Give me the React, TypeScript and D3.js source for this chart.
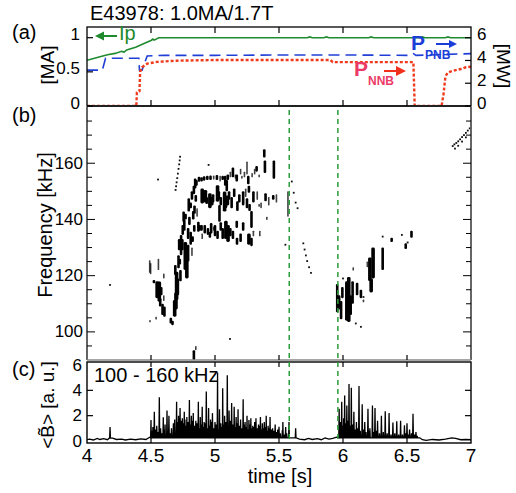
import React from 'react';
import * as d3 from 'd3';

const W = 516, H = 493;
const FONT = "'Liberation Sans', Arial, Helvetica, sans-serif";

// ---------- ticks ----------
const timeTicks = [4, 4.5, 5, 5.5, 6, 6.5, 7];
const timeTickLabels = ['4', '4.5', '5', '5.5', '6', '6.5', '7'];
const ipTicks = [0, 0.5, 1];
const ipTickLabels = ['0', '0.5', '1'];
const mwTicks = [0, 2, 4, 6];
const freqMajor = [100, 120, 140, 160];
const freqMinor = [95, 100, 105, 110, 115, 120, 125, 130, 135, 140, 145, 150, 155, 160, 165, 170, 175];
const bTicks = [0, 2, 4, 6];

// ---------- panel (a) series: [time s, value] ----------
const ipSeries: [number, number][] = [
  [4.0, 0.67], [4.08, 0.71], [4.16, 0.75], [4.22, 0.77], [4.27, 0.8], [4.29, 0.79], [4.31, 0.82],
  [4.38, 0.86], [4.45, 0.92], [4.5, 0.96], [4.515, 0.98], [4.525, 0.965], [4.56, 1.0], [4.6, 1.0],
  [5.0, 1.0], [5.5, 1.0], [5.72, 1.0], [5.74, 1.012], [5.76, 1.0], [5.85, 1.0], [5.87, 1.012],
  [5.89, 1.0], [6.2, 1.0], [6.22, 1.012], [6.24, 1.0], [6.6, 1.0], [6.62, 1.012], [6.64, 1.0],
  [6.8, 1.0], [6.82, 1.012], [6.84, 1.0], [7.0, 1.0],
];
const pnbSeries: [number, number][] = [
  [4.0, 3.15], [4.12, 3.15], [4.145, 4.2], [4.405, 4.2], [4.41, 3.15], [4.43, 3.15], [4.47, 4.4],
  [4.6, 4.45], [5.0, 4.45], [5.5, 4.48], [6.0, 4.48], [6.53, 4.45], [6.55, 4.6], [6.57, 4.45],
  [7.0, 4.6],
];
const nnbSeries: [number, number][] = [
  [4.0, 0], [4.385, 0], [4.39, 1.2], [4.41, 1.3], [4.415, 3.0], [4.43, 3.4], [4.47, 3.72],
  [4.55, 3.88], [4.7, 3.98], [5.0, 4.04], [5.9, 4.04], [5.92, 3.85], [6.55, 3.85], [6.56, 0],
  [6.77, 0], [6.785, 1.0], [6.8, 2.6], [6.82, 2.95], [6.86, 3.1], [6.92, 3.25], [6.96, 3.4],
  [7.0, 3.45],
];

// ---------- panel (b) spectrogram: [time, fLow, fHigh, weight] and dots [time, f] ----------
const streaks: [number, number, number, number][] = [
  // early cluster
  [4.49, 121, 125.5, 1], [4.497, 120.5, 124.5, 1], [4.523, 117.3, 118.5, 2], [4.548, 112, 118, 3],
  [4.558, 122, 126, 1], [4.565, 110.7, 117.9, 3], [4.572, 109, 112, 2], [4.59, 106, 110, 2],
  [4.605, 105.4, 109, 2], [4.6, 119, 120.8, 1], [4.54, 104.4, 105.4, 1], [4.492, 103.4, 104.2, 1],
  [4.58, 113, 116, 2], [4.6, 111, 113, 1],
  // main rising arc
  [4.655, 103, 105, 2], [4.668, 102.4, 104, 2], [4.685, 105.4, 111.3, 3], [4.695, 108, 114, 3],
  [4.7, 111.3, 121.4, 3], [4.71, 113, 119, 2], [4.69, 120.2, 123.8, 2], [4.715, 122.6, 127.3, 2],
  [4.725, 124, 126, 2], [4.735, 127.3, 134.5, 2], [4.745, 129, 133, 2], [4.748, 134.5, 138, 2],
  [4.768, 122, 132, 3], [4.78, 119, 127, 3], [4.79, 125, 131, 2], [4.81, 131, 135.6, 2],
  [4.825, 132, 134, 2], [4.838, 135.6, 138, 2],
  [4.72, 129, 133, 2], [4.73, 118, 122, 2], [4.76, 136, 140, 2], [4.79, 133, 137, 2],
  [4.8, 138, 141, 2], [4.83, 140, 143, 2], [4.82, 127, 130, 1], [4.84, 142, 145, 2], [4.86, 141, 144, 1],
  [4.755, 139.2, 142.8, 2], [4.77, 140, 142, 2], [4.795, 142.8, 147.5, 2], [4.81, 144, 146, 2],
  [4.82, 147, 150, 2], [4.835, 149, 152, 2], [4.845, 151, 154.6, 2], [4.855, 152, 154, 2],
  [4.85, 146.3, 148.7, 2], [4.87, 135.6, 139.2, 2], [4.88, 136, 138, 2],
  // top band
  [4.875, 153.4, 155.2, 2], [4.895, 153.5, 155, 2], [4.915, 153.8, 155.4, 2], [4.94, 154, 155.5, 2],
  [4.965, 154, 155.6, 2], [4.99, 154.2, 155.6, 1], [5.015, 154, 155.8, 2], [5.04, 153.5, 155.5, 1],
  [5.06, 154, 155.5, 2], [5.14, 155, 158.5, 2], [5.2, 156, 158, 1], [5.25, 156, 160.6, 1],
  [5.1, 154, 156, 2], [5.12, 155, 157, 1], [5.16, 154.5, 156, 1], [5.23, 155, 157, 1],
  [5.29, 155, 156.5, 1], [5.31, 156, 158, 1],
  // middle band
  [4.9, 145.7, 151, 3], [4.91, 147, 150, 3], [4.925, 146, 150.5, 3], [4.935, 145.5, 148, 2],
  [4.96, 144, 149.3, 3], [4.975, 145, 148, 3], [4.985, 146, 149, 2], [5.02, 146.3, 152.2, 3],
  [5.03, 147, 150, 2], [5.045, 145, 148, 2], [5.075, 142.8, 149.9, 3], [5.088, 146, 148, 2],
  [5.11, 147, 150, 2], [5.13, 144, 148, 2], [5.15, 148, 151, 2], [5.19, 146, 149, 2],
  [5.22, 145, 150, 2], [5.24, 148, 151, 1], [5.3, 146, 150, 2], [5.33, 147, 150, 1],
  [5.36, 144, 146, 1], [5.42, 145, 148, 1], [5.48, 146, 149, 1],
  // lower band
  [4.895, 136, 138, 2], [4.92, 135, 138, 2], [4.945, 134.5, 137, 2], [4.97, 135, 138.7, 2],
  [4.99, 136, 137.5, 1], [5.035, 139.2, 145.1, 2], [5.045, 136, 139, 2], [5.06, 133, 137, 2],
  [4.9, 133, 135, 1], [4.96, 133.5, 135.5, 2], [5.0, 134, 138, 2], [5.02, 133, 136, 2],
  [5.12, 134, 137, 2], [5.14, 133, 136, 2], [5.2, 132, 135, 2], [5.22, 136, 139, 2],
  [5.3, 134, 136, 1], [5.35, 134, 136, 1],
  // 5.08 - 5.6
  [5.08, 152, 155.5, 2], [5.092, 150, 154, 2], [5.082, 144, 148, 3], [5.097, 145, 148.5, 3],
  [5.085, 133, 139.5, 3], [5.102, 132, 138, 3], [5.17, 153.5, 156, 2], [5.175, 143, 146.5, 2],
  [5.17, 137, 139.5, 2], [5.172, 131, 133.5, 2], [5.21, 154.5, 155.5, 1], [5.26, 152.5, 155.5, 2],
  [5.265, 149.5, 152, 2], [5.25, 144, 147.5, 2], [5.27, 143, 145.5, 2], [5.285, 137, 143, 2],
  [5.265, 131, 135, 3], [5.285, 130.5, 133.5, 2], [5.325, 157, 159, 2], [5.345, 155, 156, 1],
  [5.345, 144.5, 145.5, 1], [5.385, 162, 165, 2], [5.39, 156.5, 161, 2], [5.395, 146.5, 149.3, 2],
  [5.405, 139.8, 141, 1], [5.455, 147, 148.7, 2], [5.46, 154.5, 161, 2], [5.57, 141, 150, 1],
  // second burst after 5.96 s
  [5.955, 107, 117, 2], [5.97, 108, 113, 2], [5.985, 104.5, 111, 2], [5.995, 112, 116, 2],
  [6.03, 104, 118, 3], [6.045, 103.5, 119.5, 3], [6.06, 106, 113, 2], [6.075, 110, 118, 2],
  [6.08, 121.8, 123, 1], [6.11, 113, 117.5, 2], [6.14, 112, 115, 2], [6.16, 110.5, 111.5, 1],
  [6.19, 123, 125, 1], [6.21, 118, 126.5, 3], [6.22, 114, 119, 3], [6.235, 119, 130, 3],
  [6.31, 122, 130, 2], [6.38, 132, 133.5, 2], [6.49, 129.5, 131.5, 2], [6.535, 133.5, 136, 2],
  // bottom mark
  [4.835, 90, 93.5, 2], [4.85, 93.5, 95, 1],
];
const dots: [number, number][] = [
  [4.18, 116.7], [4.555, 154.2], [5.117, 97.5], [4.95, 159.4], [5.55, 131],
  [4.727, 162.3], [4.724, 161], [4.72, 159.6], [4.715, 158], [4.71, 156.3], [4.705, 154.7],
  [4.7, 153.2], [4.696, 151.8], [4.692, 150.5],
  [5.6, 153.5], [5.615, 149.5], [5.63, 146], [5.645, 144],
  [5.69, 131.5], [5.7, 129.3], [5.71, 127.2], [5.72, 125.2], [5.735, 123], [5.75, 121],
  [6.0, 119], [6.04, 118.7], [6.1, 103], [6.14, 101.8], [6.16, 112.4], [6.31, 133.9],
  [6.46, 134.5], [6.505, 131.8],
  [6.857, 166.1], [6.87, 166.7], [6.885, 167.2], [6.9, 167.8], [6.915, 168.5], [6.93, 169.3],
  [6.945, 170], [6.96, 170.8], [6.975, 171.6], [6.99, 172.4],
  [6.875, 165.2], [6.9, 166.2], [6.93, 167.7], [6.96, 169.2],
];

// ---------- panel (c): spikes [time, amplitude] ----------
const spikes: [number, number][] = [
  [4.18, 1.1], [4.5, 1.66], [4.526, 2.3], [4.565, 3.45], [4.596, 1.87], [4.61, 1.3], [4.625, 2.4],
  [4.64, 2.0], [4.7, 3.1], [4.715, 2.0], [4.727, 2.6], [4.745, 1.8], [4.76, 2.3], [4.78, 1.9],
  [4.8, 3.24], [4.815, 2.0], [4.83, 2.2], [4.85, 1.6], [4.87, 3.1], [4.885, 1.9], [4.9, 2.7],
  [4.915, 1.5], [4.932, 3.9], [4.95, 2.6], [4.965, 1.7], [4.98, 2.2], [5.0, 1.5], [5.02, 5.4],
  [5.035, 2.5], [5.06, 4.16], [5.075, 2.0], [5.096, 5.2], [5.11, 2.4], [5.13, 3.0], [5.15, 2.7],
  [5.165, 1.9], [5.18, 2.5], [5.2, 1.7], [5.22, 3.3], [5.235, 1.5], [5.25, 2.0], [5.265, 1.66],
  [5.28, 1.8], [5.295, 1.2], [5.31, 1.5], [5.32, 1.8], [5.34, 1.3], [5.355, 1.9], [5.37, 1.4],
  [5.385, 1.5], [5.4, 2.0], [5.415, 1.2], [5.43, 1.9], [5.45, 1.0], [5.47, 1.3], [5.5, 1.12],
  [5.526, 0.84], [5.53, 1.5], [5.552, 1.1], [5.578, 1.5], [5.63, 1.0],
  [5.97, 2.55], [5.99, 3.1], [6.013, 3.6], [6.03, 2.8], [6.047, 4.5], [6.065, 4.2], [6.085, 2.3],
  [6.105, 1.5], [6.125, 4.35], [6.15, 2.9], [6.17, 1.5], [6.195, 2.55], [6.21, 1.0], [6.23, 2.8],
  [6.25, 2.6], [6.27, 1.6], [6.3, 2.0], [6.33, 2.35], [6.36, 2.2], [6.39, 1.45], [6.42, 1.55],
  [6.45, 1.6], [6.48, 1.24], [6.5, 1.4], [6.52, 0.9], [6.547, 2.15], [6.57, 0.7],
];
const fillSpikes: [number, number][] = [
  [4.505, 0.8], [4.515, 1.1], [4.535, 0.9], [4.545, 1.2], [4.555, 0.7], [4.575, 1.0], [4.585, 0.6],
  [4.605, 0.9], [4.615, 0.5], [4.632, 0.8], [4.65, 0.6], [4.66, 1.0], [4.675, 1.4], [4.685, 1.7],
  [4.705, 1.5], [4.72, 1.8], [4.735, 1.6], [4.75, 1.4], [4.765, 1.7], [4.775, 1.2], [4.79, 1.5],
  [4.805, 1.3], [4.82, 1.6], [4.84, 1.2], [4.86, 1.4], [4.875, 1.0], [4.89, 1.3], [4.905, 1.1],
  [4.925, 1.4], [4.94, 1.0], [4.955, 1.2], [4.975, 1.5], [4.99, 1.0], [5.01, 1.3], [5.025, 0.9],
  [5.045, 1.4], [5.055, 1.1], [5.07, 1.3], [5.085, 1.5], [5.105, 1.2], [5.12, 1.6], [5.14, 1.3],
  [5.155, 1.1], [5.175, 1.4], [5.19, 1.2], [5.21, 1.0], [5.225, 1.3], [5.245, 1.1], [5.26, 0.9],
  [5.275, 1.3], [5.29, 1.0], [5.305, 1.1], [5.33, 1.0], [5.345, 1.2], [5.36, 0.9], [5.38, 1.0],
  [5.395, 1.1], [5.41, 0.8], [5.425, 1.0], [5.44, 0.9], [5.46, 0.8], [5.48, 0.7], [5.49, 0.9],
  [5.51, 0.6], [5.54, 0.5], [5.56, 0.6],
  [5.975, 1.0], [5.98, 1.5], [6.0, 1.2], [6.005, 1.8], [6.02, 1.4], [6.04, 1.6], [6.055, 1.2],
  [6.075, 1.3], [6.095, 0.9], [6.115, 1.0], [6.135, 0.8], [6.16, 0.9], [6.18, 0.7], [6.205, 0.8],
  [6.24, 0.7], [6.26, 0.8], [6.285, 0.6], [6.315, 0.7], [6.345, 0.6], [6.375, 0.5], [6.405, 0.6],
  [6.435, 0.5], [6.465, 0.5], [6.49, 0.6], [6.51, 0.5], [6.535, 0.6], [6.56, 0.5], [6.58, 0.4],
];
const baseline: [number, number][] = [
  [4.0, 0.1], [4.02, 0.15], [4.05, 0.08], [4.08, 0.2], [4.1, 0.12], [4.13, 0.18], [4.16, 0.1],
  [4.2, 0.22], [4.23, 0.12], [4.27, 0.15], [4.3, 0.08], [4.34, 0.14], [4.38, 0.1], [4.42, 0.16],
  [4.46, 0.12], [4.49, 0.3], [5.6, 0.25], [5.66, 0.15], [5.7, 0.1], [5.73, 0.2], [5.76, 0.12],
  [5.8, 0.18], [5.83, 0.1], [5.86, 0.25], [5.89, 0.15], [5.92, 0.2], [5.95, 0.3], [6.6, 0.25],
  [6.62, 0.1], [6.65, 0.05], [6.7, 0.12], [6.75, 0.08], [6.8, 0.15], [6.85, 0.25], [6.88, 0.2],
  [6.92, 0.1], [6.96, 0.12], [7.0, 0.1],
];
const markerTimes = [5.58, 5.96];

// ---------- layout ----------
const L = 87, R = 471;
const aTop = 27, aBot = 106;
const bTop = 107, bBot = 360;
const cTop = 362, cBot = 443;

export default function App() {
  const x = d3.scaleLinear().domain([4, 7]).range([L, R]);
  const yIp = d3.scaleLinear().domain([0, 1]).range([aBot, 37.7]);
  const yMW = d3.scaleLinear().domain([0, 6]).range([aBot, 37.7]);
  const yF = d3.scaleLinear().domain([90, 180]).range([bBot, bTop]);
  const yB = d3.scaleLinear().domain([0, 6]).range([441, 365]);

  const lineIp = d3.line<[number, number]>().x(d => x(d[0])).y(d => yIp(d[1]));
  const lineMW = d3.line<[number, number]>().x(d => x(d[0])).y(d => yMW(d[1]));
  const lineB = d3.line<[number, number]>().x(d => x(d[0])).y(d => yB(d[1]));

  const foot = 0.25, hw = 0.003;
  const cPts: [number, number][] = [...baseline];
  [...spikes, ...fillSpikes].forEach(([t, v]) => {
    cPts.push([t - hw, foot], [t, v], [t + hw, foot]);
  });
  cPts.sort((a, b) => a[0] - b[0]);

  const inner = timeTicks.slice(1, -1);
  const wOf = (w: number) => (w === 1 ? 1.6 : w === 2 ? 2.6 : 3.6);

  return (
    <svg width={W} height={H} style={{ position: 'absolute', left: 0, top: 0 }} fontFamily={FONT}>
      <rect width={W} height={H} fill="#fff" />
      <defs>
        <clipPath id="clipA"><rect x={L} y={aTop} width={R - L} height={aBot - aTop + 1} /></clipPath>
        <clipPath id="clipB"><rect x={L} y={bTop} width={R - L} height={bBot - bTop} /></clipPath>
        <clipPath id="clipC"><rect x={L} y={cTop} width={R - L} height={cBot - cTop} /></clipPath>
      </defs>

      {/* title */}
      <text x={90} y={20} fontSize={20}>E43978: 1.0MA/1.7T</text>
      <text x={12} y={39} fontSize={20}>(a)</text>
      <text x={12} y={122} fontSize={20}>(b)</text>
      <text x={12} y={376} fontSize={20}>(c)</text>

      {/* ===== panel a ===== */}
      <g clipPath="url(#clipA)">
        <path d={lineIp(ipSeries) || ''} fill="none" stroke="#1f8a2e" strokeWidth={1.6} />
        <path d={lineMW(pnbSeries) || ''} fill="none" stroke="#1f3fd6" strokeWidth={1.6} strokeDasharray="11,6" />
        <path d={lineMW(nnbSeries) || ''} fill="none" stroke="#f03a1c" strokeWidth={2.4} strokeDasharray="3,2" />
      </g>
      <rect x={L} y={aTop} width={R - L} height={aBot - aTop} fill="none" stroke="#000" strokeWidth={1.3} />
      <line x1={L} x2={R} y1={aBot} y2={aBot} stroke="#222" strokeWidth={2.2} />
      {inner.map(t => (
        <g key={'at' + t}>
          <line x1={x(t)} x2={x(t)} y1={aTop} y2={aTop + 6} stroke="#000" strokeWidth={1.2} />
          <line x1={x(t)} x2={x(t)} y1={aBot} y2={aBot - 6} stroke="#000" strokeWidth={1.2} />
        </g>
      ))}
      {ipTicks.map((v, i) => (
        <g key={'ip' + v}>
          <line x1={L} x2={L + 6} y1={yIp(v)} y2={yIp(v)} stroke="#000" strokeWidth={1.2} />
          <text x={80} y={yIp(v) - 3} fontSize={17} textAnchor="end" dominantBaseline="central">{ipTickLabels[i]}</text>
        </g>
      ))}
      {mwTicks.map(v => (
        <g key={'mw' + v}>
          <line x1={R} x2={R - 6} y1={yMW(v)} y2={yMW(v)} stroke="#000" strokeWidth={1.2} />
          <text x={477} y={yMW(v) - 3} fontSize={17} textAnchor="start" dominantBaseline="central">{v}</text>
        </g>
      ))}
      <text transform="translate(54,65) rotate(-90)" fontSize={19} textAnchor="middle">[MA]</text>
      <text transform="translate(497,66) rotate(90)" fontSize={19} textAnchor="middle">[MW]</text>

      {/* Ip label */}
      <g fill="#1f8a2e" stroke="#1f8a2e">
        <line x1={102} x2={117} y1={36} y2={36} strokeWidth={2} />
        <path d="M95,36 L104,31.5 L104,40.5 Z" stroke="none" />
        <text x={119} y={40} fontSize={20} stroke="none">Ip</text>
      </g>
      {/* P_PNB label */}
      <g fill="#1c3ed8">
        <text x={411} y={50} fontSize={21} fontWeight="bold">P</text>
        <text x={425} y={59} fontSize={12} fontWeight="bold">PNB</text>
        <line x1={436} x2={450} y1={44} y2={44} stroke="#1c3ed8" strokeWidth={2} />
        <path d="M457,44 L449,40 L449,48 Z" />
      </g>
      {/* P_NNB label */}
      <g>
        <text x={354} y={76} fontSize={21} fontWeight="bold" fill="#ec3a66">P</text>
        <text x={368} y={85} fontSize={12} fontWeight="bold" fill="#ec3a66">NNB</text>
        <line x1={384} x2={397} y1={71} y2={71} stroke="#f0301c" strokeWidth={2} />
        <path d="M406,71 L396,66 L396,76 Z" fill="#f0301c" />
      </g>

      {/* ===== panel b ===== */}
      <g clipPath="url(#clipB)">
        {streaks.map(([t, f1, f2, w], i) => {
          const ww = wOf(w);
          const yTop = yF(f2);
          const hh = Math.max(1.8, yF(f1) - yF(f2));
          return <rect key={'s' + i} x={x(t) - ww / 2} y={yTop} width={ww} height={hh} rx={ww / 2.5}
            fill="#000" opacity={w === 1 ? 0.75 : 1} />;
        })}
        {dots.map(([t, f], i) => (
          <rect key={'d' + i} x={x(t) - 0.9} y={yF(f) - 0.9} width={1.8} height={1.8} fill="#111" />
        ))}
      </g>
      <line x1={L} x2={L} y1={bTop} y2={bBot} stroke="#222" strokeWidth={1.4} />
      <line x1={R} x2={R} y1={bTop} y2={bBot} stroke="#555" strokeWidth={1.8} />
      <line x1={L} x2={R} y1={bBot} y2={bBot} stroke="#888" strokeWidth={1.4} />
      {inner.map(t => (
        <line key={'bt' + t} x1={x(t)} x2={x(t)} y1={bBot} y2={bBot - 5} stroke="#000" strokeWidth={1.2} />
      ))}
      {freqMinor.map(f => {
        const len = freqMajor.includes(f) ? 8 : 5;
        return (
          <g key={'fm' + f}>
            <line x1={L} x2={L + len} y1={yF(f)} y2={yF(f)} stroke="#000" strokeWidth={1} />
            <line x1={R} x2={R - len} y1={yF(f)} y2={yF(f)} stroke="#000" strokeWidth={1} />
          </g>
        );
      })}
      {freqMajor.map(f => (
        <text key={'fl' + f} x={83} y={yF(f)} fontSize={17} textAnchor="end" dominantBaseline="central">{f}</text>
      ))}
      <text transform="translate(52,225) rotate(-90)" fontSize={20} textAnchor="middle">Frequency [kHz]</text>

      {/* ===== panel c ===== */}
      <g clipPath="url(#clipC)">
        <path d={lineB(cPts) || ''} fill="none" stroke="#000" strokeWidth={1.3} />
      </g>
      <rect x={L} y={cTop} width={R - L} height={cBot - cTop} fill="none" stroke="#000" strokeWidth={1.4} />
      {inner.map(t => (
        <g key={'ct' + t}>
          <line x1={x(t)} x2={x(t)} y1={cTop} y2={cTop + 5} stroke="#000" strokeWidth={1.2} />
          <line x1={x(t)} x2={x(t)} y1={cBot} y2={cBot - 6} stroke="#000" strokeWidth={1.2} />
        </g>
      ))}
      {bTicks.map(v => (
        <g key={'bb' + v}>
          {v > 0 && v < 6 && <line x1={L} x2={L + 6} y1={yB(v)} y2={yB(v)} stroke="#000" strokeWidth={1.2} />}
          {v > 0 && v < 6 && <line x1={R} x2={R - 6} y1={yB(v)} y2={yB(v)} stroke="#000" strokeWidth={1.2} />}
          <text x={82} y={yB(v)} fontSize={17} textAnchor="end" dominantBaseline="central">{v}</text>
        </g>
      ))}
      <text x={94} y={382} fontSize={20}>100 - 160 kHz</text>
      <text transform="translate(54,405) rotate(-90)" fontSize={19} textAnchor="middle">{'<B\u0303> [a. u.]'}</text>

      {/* marker lines */}
      {markerTimes.map(t => (
        <line key={'m' + t} x1={x(t)} x2={x(t)} y1={bTop + 3} y2={cBot} stroke="#2a9d3a" strokeWidth={1.5} strokeDasharray="5,4" />
      ))}

      {/* x axis labels */}
      {timeTicks.map((t, i) => (
        <text key={'xl' + t} x={x(t)} y={462} fontSize={19} textAnchor="middle">{timeTickLabels[i]}</text>
      ))}
      <text x={280} y={483} fontSize={20} textAnchor="middle">time [s]</text>
    </svg>
  );
}
